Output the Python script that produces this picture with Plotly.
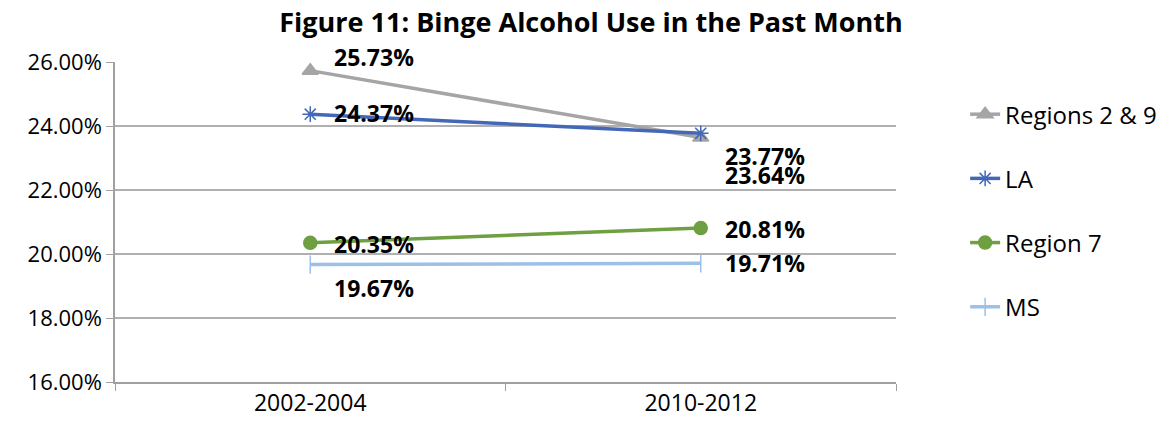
import plotly.graph_objects as go

categories = ["2002-2004", "2010-2012"]
series_names = ["Regions 2 & 9", "LA", "Region 7", "MS"]
regions_2_9 = [25.73, 23.64]
la = [24.37, 23.77]
region_7 = [20.35, 20.81]
ms = [19.67, 19.71]
y_ticks = [16, 18, 20, 22, 24, 26]
y_tick_labels = ["16.00%", "18.00%", "20.00%", "22.00%", "24.00%", "26.00%"]
title_text = "Figure 11: Binge Alcohol Use in the Past Month"

series_values = [regions_2_9, la, region_7, ms]
colors = ["#A5A5A5", "#4468B8", "#6E9F40", "#9DC0E6"]
symbols = ["triangle-up", "asterisk-open", "circle", "line-ns-open"]
msizes = [14, 13, 13, 13]
# label offsets (xshift, yshift) per series per point
offsets = [
    [(22, 14), (22, -37)],
    [(22, 1), (22, -23)],
    [(22, -1), (22, -1)],
    [(22, -23), (22, 0)],
]

FONT = "'Open Sans', Lato, sans-serif"

fig = go.Figure()
for i, (name, vals) in enumerate(zip(series_names, series_values)):
    fig.add_trace(go.Scatter(
        x=categories, y=vals, name=name, mode="lines+markers",
        line=dict(color=colors[i], width=3.5),
        marker=dict(symbol=symbols[i], size=msizes[i], color=colors[i],
                    line=dict(color=colors[i], width=1.5)),
        legendgroup=name,
    ))
    for j, v in enumerate(vals):
        fig.add_annotation(
            x=categories[j], y=v, xref="x", yref="y",
            text=f"<b>{v:.2f}%</b>", showarrow=False, xanchor="left", yanchor="middle",
            xshift=offsets[i][j][0], yshift=offsets[i][j][1],
            font=dict(family=FONT, size=23, color="#000000"),
        )

fig.update_layout(
    width=1166, height=421,
    margin=dict(l=107, r=274, t=54, b=47),
    paper_bgcolor="white", plot_bgcolor="white",
    title=dict(text=f"<b>{title_text}</b>", xref="container", x=0.5, xanchor="center",
               yref="container", y=0.966, yanchor="middle",
               font=dict(family=FONT, size=27, color="#000000")),
    legend=dict(x=1.0885, xanchor="left", y=0.906, yanchor="top",
                font=dict(family=FONT, size=24, color="#000000"),
                tracegroupgap=30, bgcolor="rgba(0,0,0,0)"),
    showlegend=True,
)
fig.update_xaxes(
    type="category", range=[-0.5, 1.5], tickson="boundaries",
    ticks="outside", ticklen=7, tickcolor="#A0A0A0",
    showline=True, linecolor="#A0A0A0", linewidth=1.5, showgrid=False,
    tickfont=dict(family=FONT, size=23, color="#000000"),
)
fig.update_yaxes(
    range=[16, 26], tickvals=y_ticks, ticktext=y_tick_labels,
    ticks="outside", ticklen=7, tickcolor="#A0A0A0",
    showline=True, linecolor="#A0A0A0", linewidth=1.5,
    showgrid=True, gridcolor="#B0B0B0", gridwidth=1.5, zeroline=False,
    tickfont=dict(family=FONT, size=22, color="#000000"),
)
fig.write_html("out.html")
